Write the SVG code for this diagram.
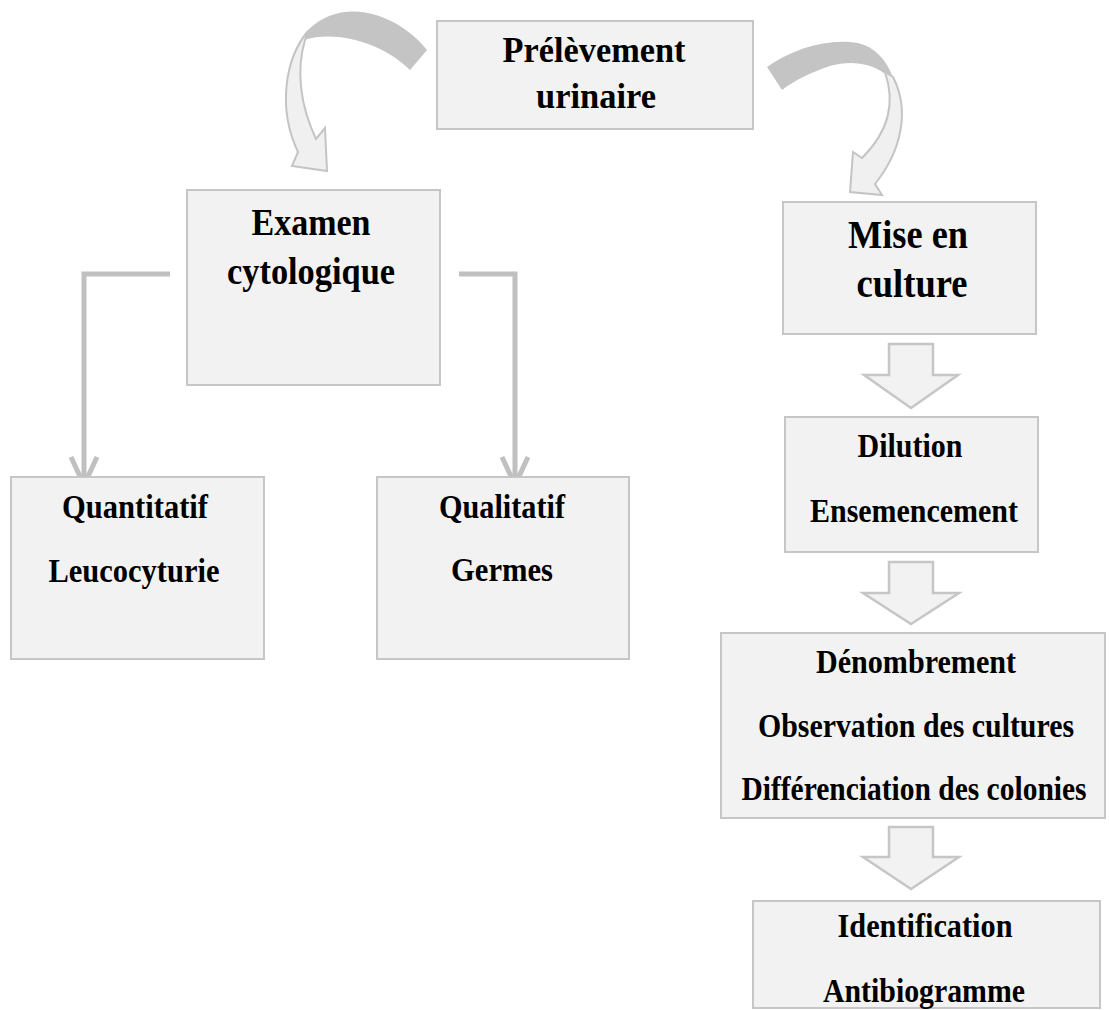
<svg xmlns="http://www.w3.org/2000/svg" width="1109" height="1010" viewBox="0 0 1109 1010">
<style>
.box{fill:#f2f2f2;stroke:#c6c6c6;stroke-width:2}
.t{font-family:"Liberation Serif","Times New Roman",serif;font-weight:bold;fill:#000;text-anchor:middle}
.s31{font-size:33px}
.s33{font-size:35px}
.s35{font-size:37px}
.s37{font-size:39px}
.elbow{fill:none;stroke:#c0c0c0;stroke-width:5}
.block{fill:#f2f2f2;stroke:#c6c6c6;stroke-width:2.5;stroke-linejoin:miter}
.back{fill:#c4c4c4}
.front{fill:#f0f0f0;stroke:#c4c4c4;stroke-width:2}
</style>
<rect width="1109" height="1010" fill="#ffffff"/>

<g id="connectors">
  <path class="back" d="M427,50 C400,16 345,-6 308,30 L304,40 C335,30 382,42 410,70 Z"/>
  <path class="front" d="M308,31 C284,60 278,110 298,152 L292,166 L327,171 L325,128 L316,139 C300,105 296,70 305,40 Z"/>
  <path class="back" d="M767,67 C795,47 830,38 858,43 C875,47 886,60 892,75 L884,73 C870,63 850,60 830,66 C812,72 795,80 782,90 Z"/>
  <path class="front" d="M885,72 C895,102 890,130 862,158 L853,152 L850,192 L882,195 L875,184 C902,150 910,110 893,77 Z"/>
  <path class="elbow" d="M170,274 H84 V485"/>
  <path class="elbow" d="M71,457 L84,485 L97,457"/>
  <path class="elbow" d="M459,274 H515 V485"/>
  <path class="elbow" d="M502,457 L515,485 L528,457"/>
  <path class="block" d="M889,344 H933 V375 H958 L911,408 L864,375 H889 Z"/>
  <path class="block" d="M889,562 H933 V593 H959 L911,624 L863,593 H889 Z"/>
  <path class="block" d="M889,827 H933 V857 H959 L911,889 L863,857 H889 Z"/>
</g>

<g id="prelevement">
  <rect class="box" x="437" y="21" width="316" height="108"/>
  <text class="t s33" x="594" y="62" textLength="183" lengthAdjust="spacingAndGlyphs">Prélèvement</text>
  <text class="t s33" x="596" y="108" textLength="120" lengthAdjust="spacingAndGlyphs">urinaire</text>
</g>

<g id="examen">
  <rect class="box" x="187" y="190" width="253" height="195"/>
  <text class="t s35" x="311" y="235" textLength="119" lengthAdjust="spacingAndGlyphs">Examen</text>
  <text class="t s35" x="311" y="284" textLength="168" lengthAdjust="spacingAndGlyphs">cytologique</text>
</g>

<g id="culture">
  <rect class="box" x="783" y="202" width="253" height="132"/>
  <text class="t s37" x="908" y="248" textLength="120" lengthAdjust="spacingAndGlyphs">Mise en</text>
  <text class="t s37" x="912" y="297" textLength="111" lengthAdjust="spacingAndGlyphs">culture</text>
</g>

<g id="quantitatif">
  <rect class="box" x="11" y="477" width="253" height="182"/>
  <text class="t s31" x="135" y="518" textLength="146" lengthAdjust="spacingAndGlyphs">Quantitatif</text>
  <text class="t s31" x="134" y="582" textLength="171" lengthAdjust="spacingAndGlyphs">Leucocyturie</text>
</g>

<g id="qualitatif">
  <rect class="box" x="377" y="477" width="252" height="182"/>
  <text class="t s31" x="502" y="518" textLength="126" lengthAdjust="spacingAndGlyphs">Qualitatif</text>
  <text class="t s31" x="502" y="581" textLength="102" lengthAdjust="spacingAndGlyphs">Germes</text>
</g>

<g id="dilution">
  <rect class="box" x="785" y="417" width="253" height="135"/>
  <text class="t s31" x="910" y="457" textLength="105" lengthAdjust="spacingAndGlyphs">Dilution</text>
  <text class="t s31" x="914" y="522" textLength="208" lengthAdjust="spacingAndGlyphs">Ensemencement</text>
</g>

<g id="denombrement">
  <rect class="box" x="721" y="633" width="384" height="185"/>
  <text class="t s31" x="916" y="673" textLength="200" lengthAdjust="spacingAndGlyphs">Dénombrement</text>
  <text class="t s31" x="916" y="737" textLength="316" lengthAdjust="spacingAndGlyphs">Observation des cultures</text>
  <text class="t" font-size="29.5" transform="translate(914,800) scale(1,1.12)" x="0" y="0">Différenciation des colonies</text>
</g>

<g id="identification">
  <rect class="box" x="753" y="901" width="347" height="107"/>
  <text class="t s31" x="925" y="937" textLength="175" lengthAdjust="spacingAndGlyphs">Identification</text>
  <text class="t s31" x="924" y="1002" textLength="202" lengthAdjust="spacingAndGlyphs">Antibiogramme</text>
</g>
</svg>
